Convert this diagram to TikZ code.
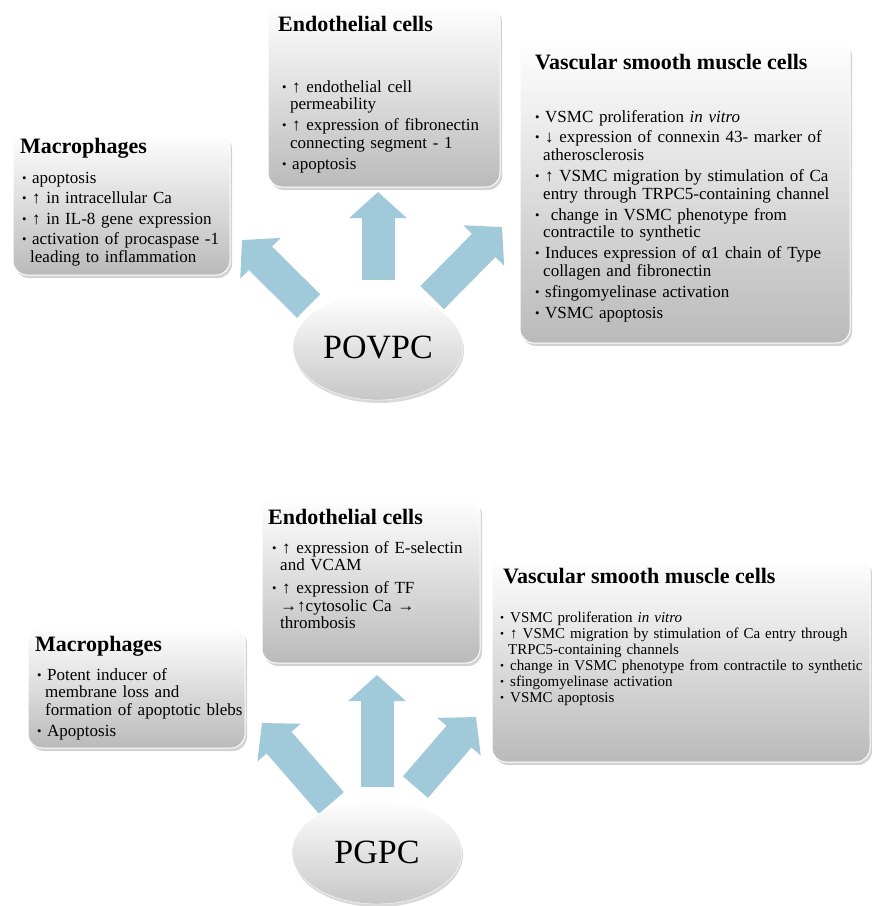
\documentclass[tikz,border=0pt]{standalone}
\usepackage{fontspec}
\setmainfont{Liberation Serif}
\usepackage{graphicx}
\usetikzlibrary{shapes.geometric,shadows,arrows.meta,backgrounds}
\definecolor{arrowblue}{RGB}{160,201,217}
\definecolor{boxgray}{RGB}{186,186,186}

\newcommand{\itm}{\makebox[10pt][l]{\raisebox{1pt}{\scalebox{0.75}{\textbullet}}}}
\newcommand{\wrp}{\hspace*{8pt}}

\tikzset{
  cellbox/.style={rectangle, rounded corners=14pt, draw=white, line width=1pt,
    top color=white, bottom color=boxgray,
    drop shadow={opacity=0.35, shadow xshift=2pt, shadow yshift=-3pt}},
  cellhead/.style={anchor=base west, inner sep=0pt, font=\fontsize{22}{24}\selectfont\bfseries},
  celltext/.style={anchor=base west, inner sep=0pt, align=left, font=\fontsize{17}{17.5}\selectfont},
  lipid/.style={ellipse, minimum width=170pt, minimum height=106pt, inner sep=0pt, draw=white,
    top color=white, bottom color=black!22,
    drop shadow={opacity=0.3, shadow xshift=1pt, shadow yshift=-3pt},
    font=\fontsize{34}{36}\selectfont},
  fatarrow/.style={line width=33pt, arrowblue, -{Triangle[length=26pt,width=56pt]}}
}

\begin{document}
\begin{tikzpicture}[x=1pt,y=-1pt]
\useasboundingbox (0,0) rectangle (872,906);

%%%%%%%%%%%%%%% POVPC %%%%%%%%%%%%%%%%
\begin{scope}
\node[cellbox, minimum width=217pt, minimum height=143pt] (macroA) at (121.5,203.5) {};
\node[cellhead] (macroAhead) at (20,153) {Macrophages};
\node[celltext, text width=260pt] (macroAlist) at (22,183) {%
\itm apoptosis\\[3pt]
\itm ↑ in intracellular Ca\\[3pt]
\itm ↑ in IL-8 gene expression\\[3pt]
\itm activation of procaspase -1\\
\wrp leading to inflammation};

\node[cellbox, minimum width=232pt, minimum height=182pt] (endoA) at (384,96) {};
\node[cellhead] (endoAhead) at (278,31) {Endothelial cells};
\node[celltext, text width=260pt] (endoAlist) at (282,92) {%
\itm ↑ endothelial cell\\
\wrp permeability\\[3.5pt]
\itm ↑ expression of fibronectin\\
\wrp connecting segment - 1\\[3.5pt]
\itm apoptosis};

\node[cellbox, minimum width=330pt, minimum height=303pt] (vsmcA) at (685,191.5) {};
\node[cellhead] (vsmcAhead) at (535,69) {Vascular smooth muscle cells};
\node[celltext, text width=330pt, font=\fontsize{17}{17.8}\selectfont] (vsmcAlist) at (535,122) {%
\itm VSMC proliferation \textit{in vitro}\\[3pt]
\itm ↓ expression of connexin 43- marker of\\
\wrp atherosclerosis\\[3pt]
\itm ↑ VSMC migration by stimulation of Ca\\
\wrp entry through TRPC5-containing channel\\[3pt]
\itm\ change in VSMC phenotype from\\
\wrp contractile to synthetic\\[3pt]
\itm Induces expression of α1 chain of Type\\
\wrp collagen and fibronectin\\[3pt]
\itm sfingomyelinase activation\\[3pt]
\itm VSMC apoptosis};

\node[lipid] (povpc) at (378,347) {POVPC};

\coordinate (macroAtip) at (242,240);
\coordinate (endoAtip) at (378,192);
\coordinate (vsmcAtip) at (502,227);
\begin{pgfonlayer}{background}
\foreach \a/\s/\t in {151/8/macroAtip, 90/14/endoAtip, 42/8/vsmcAtip}
	\draw[fatarrow, shorten <=\s pt] (povpc.\a) -- (\t);
\end{pgfonlayer}
\end{scope}

%%%%%%%%%%%%%%% PGPC %%%%%%%%%%%%%%%%
\begin{scope}
\node[cellbox, minimum width=217pt, minimum height=121pt] (macroB) at (136.5,687.5) {};
\node[cellhead] (macroBhead) at (35,651) {Macrophages};
\node[celltext, text width=260pt] (macroBlist) at (37,680) {%
\itm Potent inducer of\\
\wrp membrane loss and\\
\wrp formation of apoptotic blebs\\[3.5pt]
\itm Apoptosis};

\node[cellbox, minimum width=218pt, minimum height=165pt] (endoB) at (371,580.5) {};
\node[cellhead] (endoBhead) at (268,524) {Endothelial cells};
\node[celltext, text width=260pt] (endoBlist) at (272,553) {%
\itm ↑ expression of E-selectin\\
\wrp and VCAM\\[5.5pt]
\itm ↑ expression of TF\\
\wrp →↑cytosolic Ca →\\
\wrp thrombosis};

\node[cellbox, minimum width=378pt, minimum height=205pt] (vsmcB) at (681,659.5) {};
\node[cellhead] (vsmcBhead) at (503,583) {Vascular smooth muscle cells};
\node[celltext, text width=400pt, font=\fontsize{15}{16}\selectfont] (vsmcBlist) at (500,622) {%
\itm VSMC proliferation \textit{in vitro}\\
\itm ↑ VSMC migration by stimulation of Ca entry through\\
\wrp TRPC5-containing channels\\
\itm change in VSMC phenotype from contractile to synthetic\\
\itm sfingomyelinase activation\\
\itm VSMC apoptosis};

\node[lipid, minimum height=104pt] (pgpc) at (377,852) {PGPC};

\coordinate (macroBtip) at (262,723);
\coordinate (endoBtip) at (377,675);
\coordinate (vsmcBtip) at (476,717);
\begin{pgfonlayer}{background}
\foreach \a/\s/\t in {133/5/macroBtip, 90/13/endoBtip, 63/20/vsmcBtip}
	\draw[fatarrow, shorten <=\s pt] (pgpc.\a) -- (\t);
\end{pgfonlayer}
\end{scope}

\end{tikzpicture}
\end{document}
